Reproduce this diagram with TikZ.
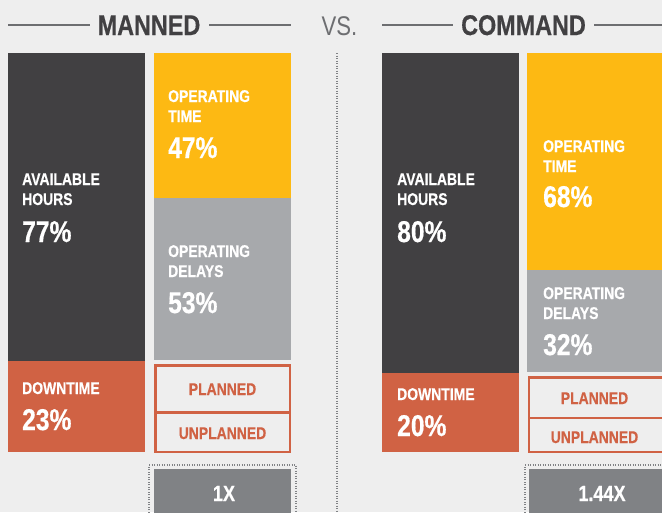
\documentclass[tikz,border=0pt]{standalone}
\usepackage{fontspec}
\setmainfont{Liberation Sans}[FakeStretch=0.82,BoldFeatures={FakeBold=0.5}]
\definecolor{bgc}{HTML}{EEEEEE}
\definecolor{darkc}{HTML}{414042}
\definecolor{yelc}{HTML}{FDB913}
\definecolor{grayc}{HTML}{A7A9AC}
\definecolor{orc}{HTML}{D06244}
\definecolor{midc}{HTML}{808285}
\definecolor{titc}{HTML}{414042}
\definecolor{linec}{HTML}{6D6E71}
\begin{document}
\begin{tikzpicture}[x=1pt,y=-1pt,
  box/.style={draw=none, inner sep=0pt, outer sep=0pt, anchor=north west},
  lbl/.style={anchor=base west, inner sep=0pt, text=white, font=\bfseries\fontsize{17}{18}\selectfont},
  pct/.style={anchor=base west, inner sep=0pt, text=white, font=\bfseries\fontsize{30}{32}\selectfont},
  olbl/.style={anchor=base, inner sep=0pt, text=orc, font=\bfseries\fontsize{17}{18}\selectfont},
  xlbl/.style={anchor=base, inner sep=0pt, text=white, font=\bfseries\fontsize{22}{24}\selectfont},
  ttl/.style={anchor=base, inner sep=0pt, text=titc, font=\bfseries\fontsize{28.5}{30}\selectfont},
  hline/.style={draw=linec, line width=1.4pt},
  dotbox/.style={draw=midc, line width=1.1pt, dash pattern=on 1pt off 1.5pt}
]
\useasboundingbox (0,0) rectangle (662,512);
\clip (0,0) rectangle (662,512);
\fill[bgc] (0,0) rectangle (662,512);

% ---------- header ----------
\node[ttl] (tman) at (149,35) {MANNED};
\node[anchor=base, inner sep=0pt, text=linec, font=\fontsize{27}{30}\selectfont] (tvs) at (339.5,35) {VS.};
\node[ttl] (tcom) at (523.5,35) {COMMAND};
\coordinate (ml1) at (8,25);   \coordinate (ml2) at (90,25);
\coordinate (mr1) at (209,25); \coordinate (mr2) at (291,25);
\coordinate (cl1) at (382,25); \coordinate (cl2) at (453,25);
\coordinate (cr1) at (594,25); \coordinate (cr2) at (662,25);
\draw[hline] (ml1) -- (ml2);
\draw[hline] (mr1) -- (mr2);
\draw[hline] (cl1) -- (cl2);
\draw[hline] (cr1) -- (cr2);

% divider
\coordinate (dv1) at (337,53); \coordinate (dv2) at (337,514);
\draw[dotbox] (dv1) -- (dv2);

% ---------- MANNED ----------
\node[box, fill=darkc, minimum width=137, minimum height=308] (mavail) at (8,53) {};
\node[box, fill=orc, minimum width=137, minimum height=91] (mdown) at (8,361) {};
\node[box, fill=yelc, minimum width=137, minimum height=145] (mop) at (154,53) {};
\node[box, fill=grayc, minimum width=137, minimum height=162] (mdel) at (154,198) {};
\node[box, fill=orc, minimum width=137, minimum height=89] (mframe) at (154,364) {};
\node[box, fill=bgc, minimum width=132, minimum height=44.5] (mplan) at (156.5,366.7) {};
\node[box, fill=bgc, minimum width=132, minimum height=37.3] (munplan) at (156.5,414) {};
\draw[dotbox] (149,520) -- (149,465) -- (296,465) -- (296,520);
\node[box, fill=midc, minimum width=137, minimum height=50] (mx) at (154,469) {};

\node[lbl] (ma1) at (22,185) {AVAILABLE};
\node[lbl] (ma2) at (22,205) {HOURS};
\node[pct] (ma3) at (22,242) {77\%};
\node[lbl] (md1) at (22,394) {DOWNTIME};
\node[pct] (md2) at (22,430) {23\%};
\node[lbl] (mo1) at (168,102) {OPERATING};
\node[lbl] (mo2) at (168,122) {TIME};
\node[pct] (mo3) at (168,158) {47\%};
\node[lbl] (me1) at (168,257) {OPERATING};
\node[lbl] (me2) at (168,277) {DELAYS};
\node[pct] (me3) at (168,313) {53\%};
\node[olbl] (mp) at (222.5,395) {PLANNED};
\node[olbl] (mu) at (222.5,439) {UNPLANNED};
\node[xlbl] (mxt) at (224,501) {1X};

% ---------- COMMAND ----------
\node[box, fill=darkc, minimum width=137, minimum height=320] (cavail) at (382,53) {};
\node[box, fill=orc, minimum width=137, minimum height=79] (cdown) at (382,373) {};
\node[box, fill=yelc, minimum width=137, minimum height=217] (cop) at (527,53) {};
\node[box, fill=grayc, minimum width=137, minimum height=102] (cdel) at (527,270) {};
\node[box, fill=orc, minimum width=137, minimum height=77] (cframe) at (527.5,376) {};
\node[box, fill=bgc, minimum width=132, minimum height=38] (cplan) at (530,378.5) {};
\node[box, fill=bgc, minimum width=132, minimum height=32] (cunplan) at (530,419) {};
\draw[dotbox] (525,520) -- (525,465) -- (672,465) -- (672,520);
\node[box, fill=midc, minimum width=137, minimum height=50] (cx) at (529,469) {};

\node[lbl] (ca1) at (397,185) {AVAILABLE};
\node[lbl] (ca2) at (397,205) {HOURS};
\node[pct] (ca3) at (397,242) {80\%};
\node[lbl] (cd1) at (397,400) {DOWNTIME};
\node[pct] (cd2) at (397,436) {20\%};
\node[lbl] (co1) at (543,152) {OPERATING};
\node[lbl] (co2) at (543,172) {TIME};
\node[pct] (co3) at (543,207) {68\%};
\node[lbl] (ce1) at (543,299) {OPERATING};
\node[lbl] (ce2) at (543,319) {DELAYS};
\node[pct] (ce3) at (543,355) {32\%};
\node[olbl] (cp) at (594.5,404) {PLANNED};
\node[olbl] (cu) at (594.5,443) {UNPLANNED};
\node[xlbl] (cxt) at (602,501) {1.44X};
\end{tikzpicture}
\end{document}
